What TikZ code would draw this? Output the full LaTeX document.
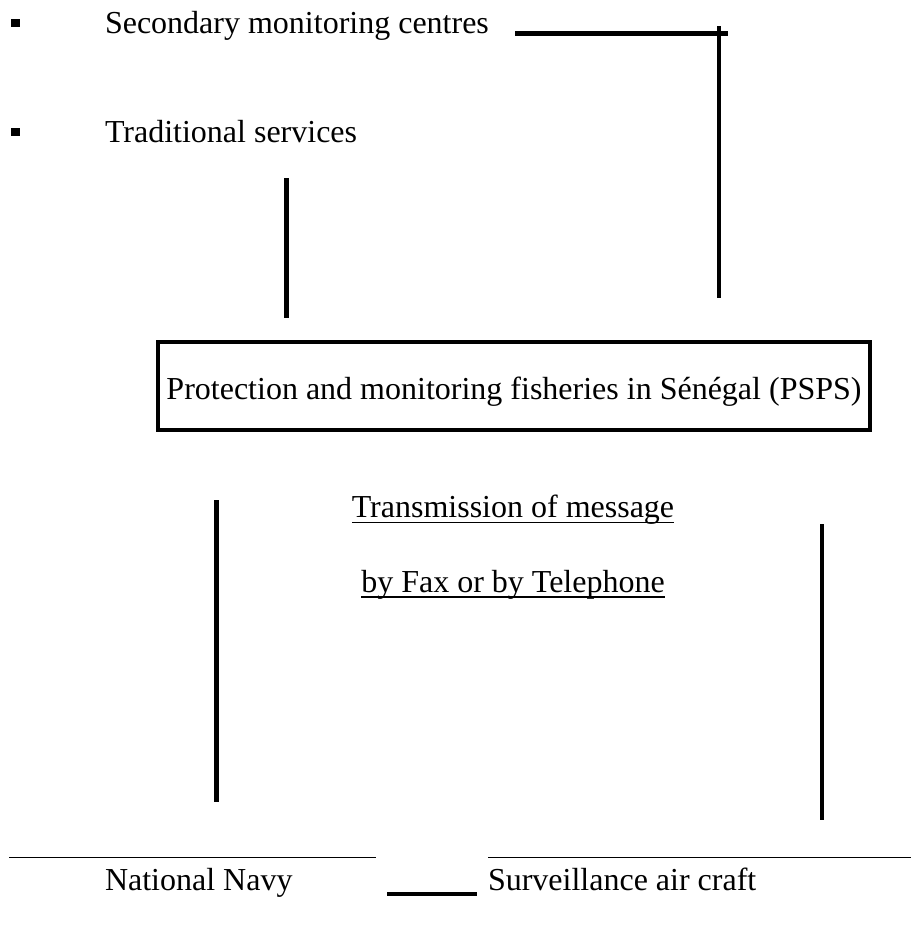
\documentclass[tikz,border=0pt]{standalone}
\usepackage{fontspec}
\setmainfont{Liberation Serif}
\usetikzlibrary{positioning}
\newcommand*{\pspsfont}{\fontsize{32}{38}\selectfont}
\tikzstyle{base}=[x=1pt, y=-1pt, inner sep=0pt, outer sep=0pt]
\tikzstyle{item}=[anchor=base west, font=\pspsfont]
\tikzstyle{bulletbox}=[fill=black, minimum width=9pt, minimum height=8pt]
\tikzstyle{link}=[line width=4.5pt]
\tikzstyle{rule}=[line width=1.5pt]
\tikzstyle{box}=[draw, line width=4pt, minimum width=712pt, minimum height=88pt,
    text height=26pt, text depth=0pt, font=\pspsfont]

\begin{document}
\begin{tikzpicture}[base]
    \path [use as bounding box] (0,0) rectangle (911,929);
        \node [bulletbox] (bullet1) at (15.5,23) {};
        \node [bulletbox] (bullet2) at (15.5,132) {};
        \node [item] (secondary) at (105,33) {Secondary monitoring centres};
        \node [item] (traditional) at (105,142) {Traditional services};
        \node [box] (psps) at (514,386) {Protection and monitoring fisheries in S\'en\'egal (PSPS)};
        \node [item, anchor=base] (trans) at (513,517) {Transmission of message};
        \node [item, anchor=base] (fax) at (513,592) {by Fax or by Telephone};
        \node [item] (navy) at (105,890) {National Navy};
        \node [item] (air) at (488,890) {Surveillance air craft};
        \draw [rule] ([yshift=-5.5pt]trans.base west) -- ([yshift=-5.5pt]trans.base east);
        \draw [rule] ([yshift=-5pt]fax.base west) -- ([yshift=-5pt]fax.base east);
        \coordinate (sec a) at (515,33.5);
        \coordinate (sec b) at (728,33.5);
        \coordinate (sec top) at (719,26);
        \coordinate (sec bottom) at (719,298);
        \coordinate (trad top) at (286.5,178);
        \coordinate (trad bottom) at (286.5,318);
        \coordinate (navy top) at (216.5,500);
        \coordinate (navy bottom) at (216.5,802);
        \coordinate (air top) at (822,524);
        \coordinate (air bottom) at (822,820);
        \coordinate (navy rule a) at (9,857.5);
        \coordinate (navy rule b) at (376,857.5);
        \coordinate (air rule a) at (488,857.5);
        \coordinate (air rule b) at (911,857.5);
        \coordinate (gap a) at (387,893.5);
        \coordinate (gap b) at (477,893.5);
        \draw [link] (sec a) -- (sec b);
        \draw [link] (sec top) -- (sec bottom);
        \draw [link] (trad top) -- (trad bottom);
        \draw [link] (navy top) -- (navy bottom);
        \draw [link] (air top) -- (air bottom);
        \draw [rule] (navy rule a) -- (navy rule b);
        \draw [rule] (air rule a) -- (air rule b);
        \draw [line width=4pt] (gap a) -- (gap b);
    \end{tikzpicture}
\end{document}
